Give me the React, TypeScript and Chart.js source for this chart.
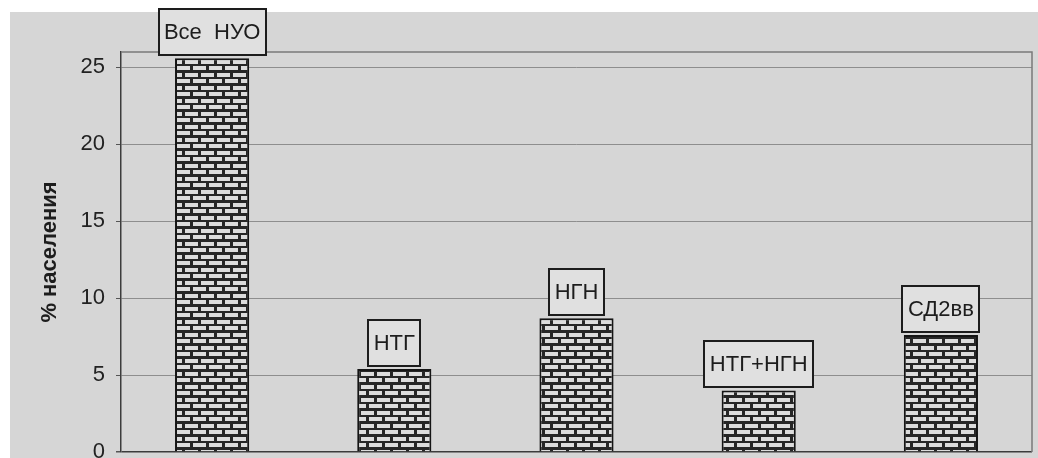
import React, { useEffect, useRef } from 'react';
import { Chart, registerables } from 'chart.js';

Chart.register(...registerables);

// Share of the population by glucose-metabolism disorder category
const categories = ['Все  НУО', 'НТГ', 'НГН', 'НТГ+НГН', 'СД2вв'];
const shares = [25.6, 5.4, 8.7, 4.0, 7.6];
const yTicks = [0, 5, 10, 15, 20, 25];
const yMax = 26;
const yTitle = '% населения';

const FONT = '"Liberation Sans", Arial, Helvetica, sans-serif';
const PAGE_BG = '#d6d6d6';
const INK = '#1d1d1d';

// Brick hatching used as the bar fill
function makeBrickPattern(): CanvasPattern | string {
  const tile = document.createElement('canvas');
  tile.width = 16;
  tile.height = 13;
  const c = tile.getContext('2d');
  if (!c) return '#777';
  c.fillStyle = '#262626';
  c.fillRect(0, 0, 16, 13);
  c.fillStyle = '#dcdcdc';
  c.fillRect(1, 1, 13, 4);
  c.fillRect(0, 8, 6, 4);
  c.fillRect(9, 8, 7, 4);
  return c.createPattern(tile, 'repeat') || '#777';
}

const backgroundPlugin = {
  id: 'pageBackground',
  beforeDraw(chart: Chart) {
    const { ctx, width, height } = chart;
    ctx.save();
    ctx.fillStyle = '#ffffff';
    ctx.fillRect(0, 0, width, height);
    ctx.fillStyle = PAGE_BG;
    ctx.fillRect(10, 12, width - 10, height - 12);
    ctx.restore();
  },
};

const frameAndLabelsPlugin = {
  id: 'frameAndLabels',
  afterDraw(chart: Chart) {
    const { ctx, chartArea } = chart;
    ctx.save();
    // top and right edges of the plot frame
    ctx.strokeStyle = '#7a7a7a';
    ctx.lineWidth = 1.5;
    ctx.beginPath();
    ctx.moveTo(chartArea.left, chartArea.top);
    ctx.lineTo(chartArea.right, chartArea.top);
    ctx.lineTo(chartArea.right, chartArea.bottom);
    ctx.stroke();

    // category name boxes sitting on top of each bar
    const meta = chart.getDatasetMeta(0);
    ctx.font = `22px ${FONT}`;
    ctx.textAlign = 'center';
    ctx.textBaseline = 'middle';
    meta.data.forEach((bar: any, i: number) => {
      const text = categories[i];
      const w = Math.round(ctx.measureText(text).width + 11);
      const h = 46;
      const x = Math.round(bar.x - w / 2);
      const y = Math.round(bar.y - 3 - h);
      ctx.fillStyle = '#e0e0e0';
      ctx.fillRect(x, y, w, h);
      ctx.strokeStyle = INK;
      ctx.lineWidth = 2;
      ctx.strokeRect(x, y, w, h);
      ctx.fillStyle = INK;
      ctx.fillText(text, bar.x, y + h / 2 + 1);
    });
    ctx.restore();
  },
};

export default function App() {
  const canvasRef = useRef<HTMLCanvasElement | null>(null);

  useEffect(() => {
    const canvas = canvasRef.current;
    if (!canvas) return;
    const brick = makeBrickPattern();

    const chart = new Chart(canvas, {
      type: 'bar',
      data: {
        labels: categories,
        datasets: [
          {
            data: shares,
            backgroundColor: brick as any,
            borderColor: '#151515',
            borderWidth: 2,
            borderSkipped: 'bottom',
            barPercentage: 0.407,
            categoryPercentage: 1,
          },
        ],
      },
      options: {
        responsive: false,
        animation: false,
        events: [],
        layout: { padding: { left: 0, top: 52, right: 6, bottom: 28 } },
        plugins: {
          legend: { display: false },
          tooltip: { enabled: false },
        },
        scales: {
          x: {
            display: false,
          },
          y: {
            min: 0,
            max: yMax,
            afterBuildTicks: (scale: any) => {
              scale.ticks = yTicks.map((v) => ({ value: v }));
            },
            afterFit: (scale: any) => {
              scale.width = 121;
            },
            border: { display: true, color: '#3c3c3c', width: 1.5 },
            grid: {
              color: (c: any) => (c.tick && c.tick.value === 0 ? '#3c3c3c' : '#8e8e8e'),
              lineWidth: (c: any) => (c.tick && c.tick.value === 0 ? 1.5 : 1),
              tickLength: 5,
              tickColor: '#555555',
            },
            ticks: {
              padding: 11,
              color: '#222222',
              font: { family: FONT, size: 22 },
            },
            title: {
              display: true,
              text: yTitle,
              color: INK,
              font: { family: FONT, size: 22, weight: 'bold' },
              padding: { top: 37, bottom: 0 },
            },
          },
        },
      },
      plugins: [backgroundPlugin, frameAndLabelsPlugin],
    });

    return () => chart.destroy();
  }, []);

  return (
    <div style={{ position: 'fixed', left: 0, top: 0, width: 1038, height: 480 }}>
      <canvas ref={canvasRef} width={1038} height={480} style={{ display: 'block' }} />
    </div>
  );
}
